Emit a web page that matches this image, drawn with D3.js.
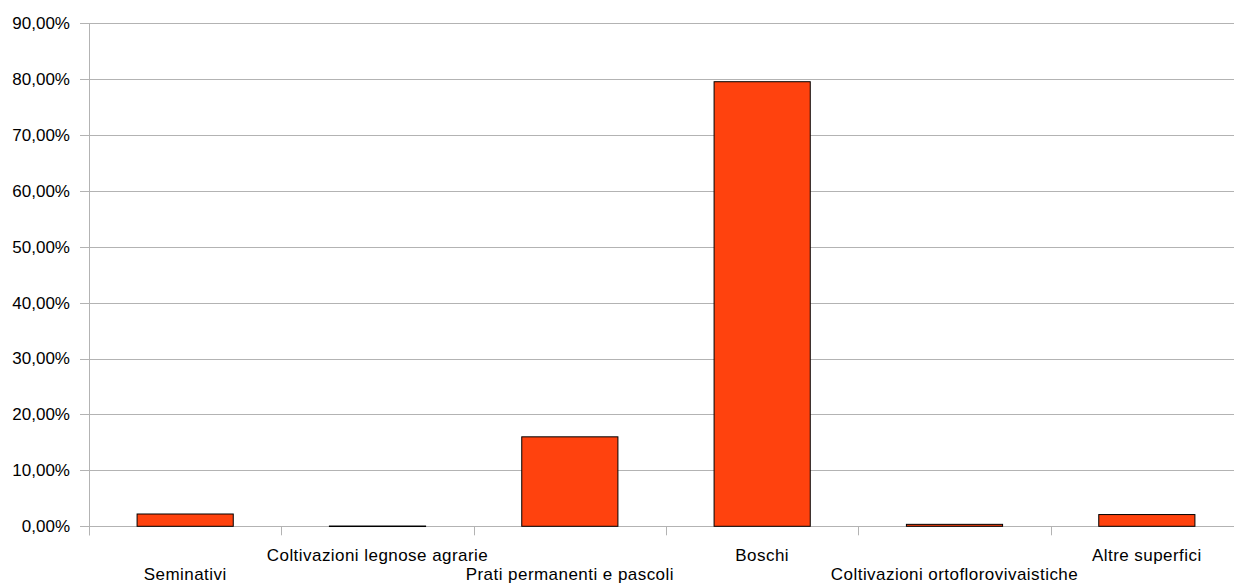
<!DOCTYPE html>
<html><head><meta charset="utf-8">
<script src="https://cdn.jsdelivr.net/npm/d3@7"></script>
<style>
body{margin:0;background:#fff;overflow:hidden}
text{font-family:"Liberation Sans",Arial,sans-serif;fill:#000}
</style></head><body>
<svg id="c" width="1234" height="585"></svg>
<script>
const categories = ["Seminativi","Coltivazioni legnose agrarie","Prati permanenti e pascoli","Boschi","Coltivazioni ortoflorovivaistiche","Altre superfici"];
const values = [2.2, 0.05, 16.0, 79.5, 0.35, 2.1];
const yTicks = [0,10,20,30,40,50,60,70,80,90];

(function(){
const svg = d3.select("#c");
const pLeft = 89, pRight = 1243, pTop = 23, pBottom = 526.3;
const x = d3.scaleBand().domain(categories).range([pLeft, pRight]).paddingInner(0.5).paddingOuter(0.25);
const y = d3.scaleLinear().domain([0, 90]).range([pBottom, pTop]);
const fmt = v => v.toFixed(2).replace(".", ",") + "%";

// gridlines
svg.append("g").selectAll("line").data(yTicks).join("line")
  .attr("x1", pLeft - 9).attr("x2", pRight)
  .attr("y1", d => Math.round(y(d)) + 0.5).attr("y2", d => Math.round(y(d)) + 0.5)
  .attr("stroke", "#b3b3b3").attr("stroke-width", 1);

// y labels
svg.append("g").selectAll("text").data(yTicks).join("text")
  .attr("x", 70).attr("y", d => y(d)).attr("dy", "0.35em")
  .attr("text-anchor", "end").attr("font-size", 17).text(fmt);

// y axis line
svg.append("line").attr("x1", pLeft + 0.5).attr("x2", pLeft + 0.5)
  .attr("y1", pTop).attr("y2", pBottom + 9).attr("stroke", "#b3b3b3");

// x ticks at category boundaries
const step = x.step();
const bounds = d3.range(categories.length + 1).map(i => pLeft + i * step);
svg.append("g").selectAll("line").data(bounds).join("line")
  .attr("x1", d => Math.round(d) + 0.5).attr("x2", d => Math.round(d) + 0.5)
  .attr("y1", pBottom).attr("y2", pBottom + 9).attr("stroke", "#b3b3b3");

// bars
svg.append("g").selectAll("rect").data(values).join("rect")
  .attr("x", (d, i) => x(categories[i]))
  .attr("width", x.bandwidth())
  .attr("y", d => y(d))
  .attr("height", d => Math.max(0.5, y(0) - y(d)))
  .attr("fill", "#ff420e").attr("stroke", "#000").attr("stroke-width", 1);

// x labels staggered
svg.append("g").selectAll("text").data(categories).join("text")
  .attr("x", d => x(d) + x.bandwidth() / 2)
  .attr("y", (d, i) => i % 2 === 0 ? 574.5 : 555).attr("dy", "0.35em")
  .attr("text-anchor", "middle").attr("font-size", 17)
  .attr("letter-spacing", "0.45px").text(d => d);
})();
</script></body></html>
